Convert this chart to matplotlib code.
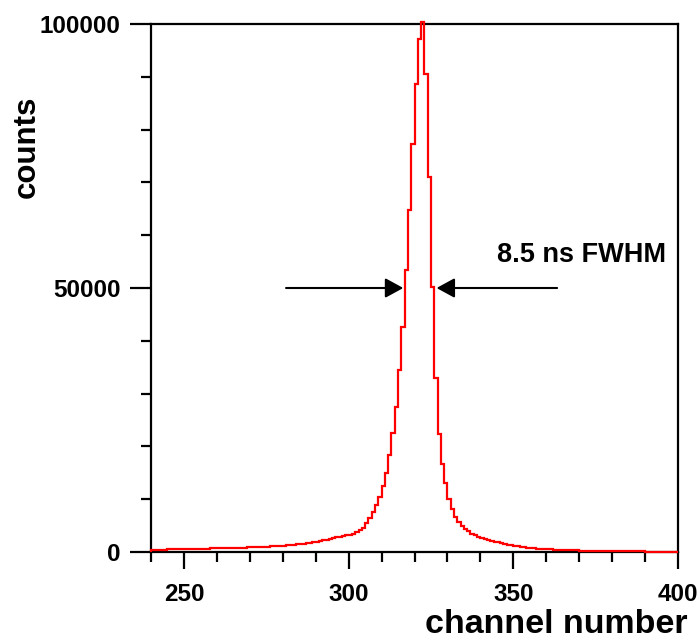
import numpy as np
import matplotlib
matplotlib.use("Agg")
import matplotlib.pyplot as plt
from matplotlib.ticker import MultipleLocator

plt.rcParams['font.family'] = ['Liberation Sans', 'DejaVu Sans']
plt.rcParams['font.weight'] = 'bold'

# channel numbers (left edge of each bin), 240..399
channels = np.arange(240, 400)

# counts per channel
counts = [
    400, 415, 430, 445, 460, 475, 490, 510, 525, 545,            # 240
    560, 575, 590, 600, 615, 630, 645, 660, 670, 685,            # 250
    700, 715, 730, 750, 765, 785, 805, 825, 845, 865,            # 260
    880, 905, 930, 960, 990, 1020, 1050, 1090, 1130, 1170,       # 270
    1200, 1250, 1300, 1360, 1430, 1500, 1580, 1670, 1760, 1850,  # 280
    1950, 2060, 2180, 2310, 2450, 2600, 2750, 2900, 3050, 3180,  # 290
    3300, 3500, 3800, 4100, 4600, 5400, 6400, 7500, 8900, 10400,  # 300
    12500, 15000, 18400, 22600, 27500, 34500, 42700, 53500, 64800, 77200,  # 310
    88600, 97200, 100300, 90500, 71000, 50200, 33000, 22400, 16700, 13000,  # 320
    10100, 8200, 6700, 5700, 4900, 4400, 3900, 3500, 3200, 2900,  # 330
    2650, 2450, 2250, 2100, 1950, 1800, 1650, 1500, 1380, 1260,  # 340
    1150, 1060, 980, 910, 840, 780, 720, 660, 610, 560,          # 350
    520, 480, 450, 420, 390, 360, 340, 320, 300, 285,            # 360
    270, 255, 240, 225, 210, 200, 190, 180, 170, 160,            # 370
    150, 142, 135, 128, 121, 115, 110, 105, 100, 95,             # 380
    90, 85, 80, 75, 70, 66, 62, 58, 54, 50,                      # 390
]

# FWHM arrows (tail x, tip x) at half maximum
half_max = 50000
left_arrow = (281.0, 316.6)
right_arrow = (363.3, 326.7)
fwhm_label = "8.5 ns FWHM"

fig = plt.figure(figsize=(6.98, 6.42), dpi=100)
ax = fig.add_axes([151/698, 1-552/642, (678-151)/698, (552-24)/642])

edges = np.append(channels, channels[-1] + 1)
ax.stairs(counts, edges, color='#ff0000', linewidth=1.6, clip_on=False, zorder=3)

ax.set_xlim(240, 400)
ax.set_ylim(0, 100000)

for sp in ax.spines.values():
    sp.set_linewidth(1.6)
    sp.set_color('black')

ax.xaxis.set_major_locator(MultipleLocator(50))
ax.xaxis.set_minor_locator(MultipleLocator(10))
ax.yaxis.set_major_locator(MultipleLocator(50000))
ax.yaxis.set_minor_locator(MultipleLocator(10000))
ax.tick_params(axis='x', which='major', direction='out', length=12, width=1.6,
               labelsize=17.5, pad=10)
ax.tick_params(axis='x', which='minor', direction='out', length=7, width=1.6)
ax.tick_params(axis='y', which='major', direction='out', length=15, width=1.6,
               labelsize=17.5, pad=7)
ax.tick_params(axis='y', which='minor', direction='out', length=7, width=1.6)
for lab in ax.get_xticklabels() + ax.get_yticklabels():
    lab.set_fontweight('bold')

for tail, tip in (left_arrow, right_arrow):
    ax.annotate('', xy=(tip, half_max), xytext=(tail, half_max),
                arrowprops=dict(arrowstyle='-|>,head_length=1.1,head_width=0.6',
                                color='black', lw=1.5, shrinkA=0, shrinkB=0))

ax.text(345, 56200, fwhm_label, fontsize=19.5, fontweight='bold',
        ha='left', va='center')

fig.text(688/698, 1-633/642, 'channel number', fontsize=24.5, fontweight='bold',
         ha='right', va='baseline')
fig.text(27/698, 1-147/642, 'counts', fontsize=22.5, fontweight='bold',
         rotation=90, ha='center', va='center')

fig.savefig('out.png', dpi=100)
